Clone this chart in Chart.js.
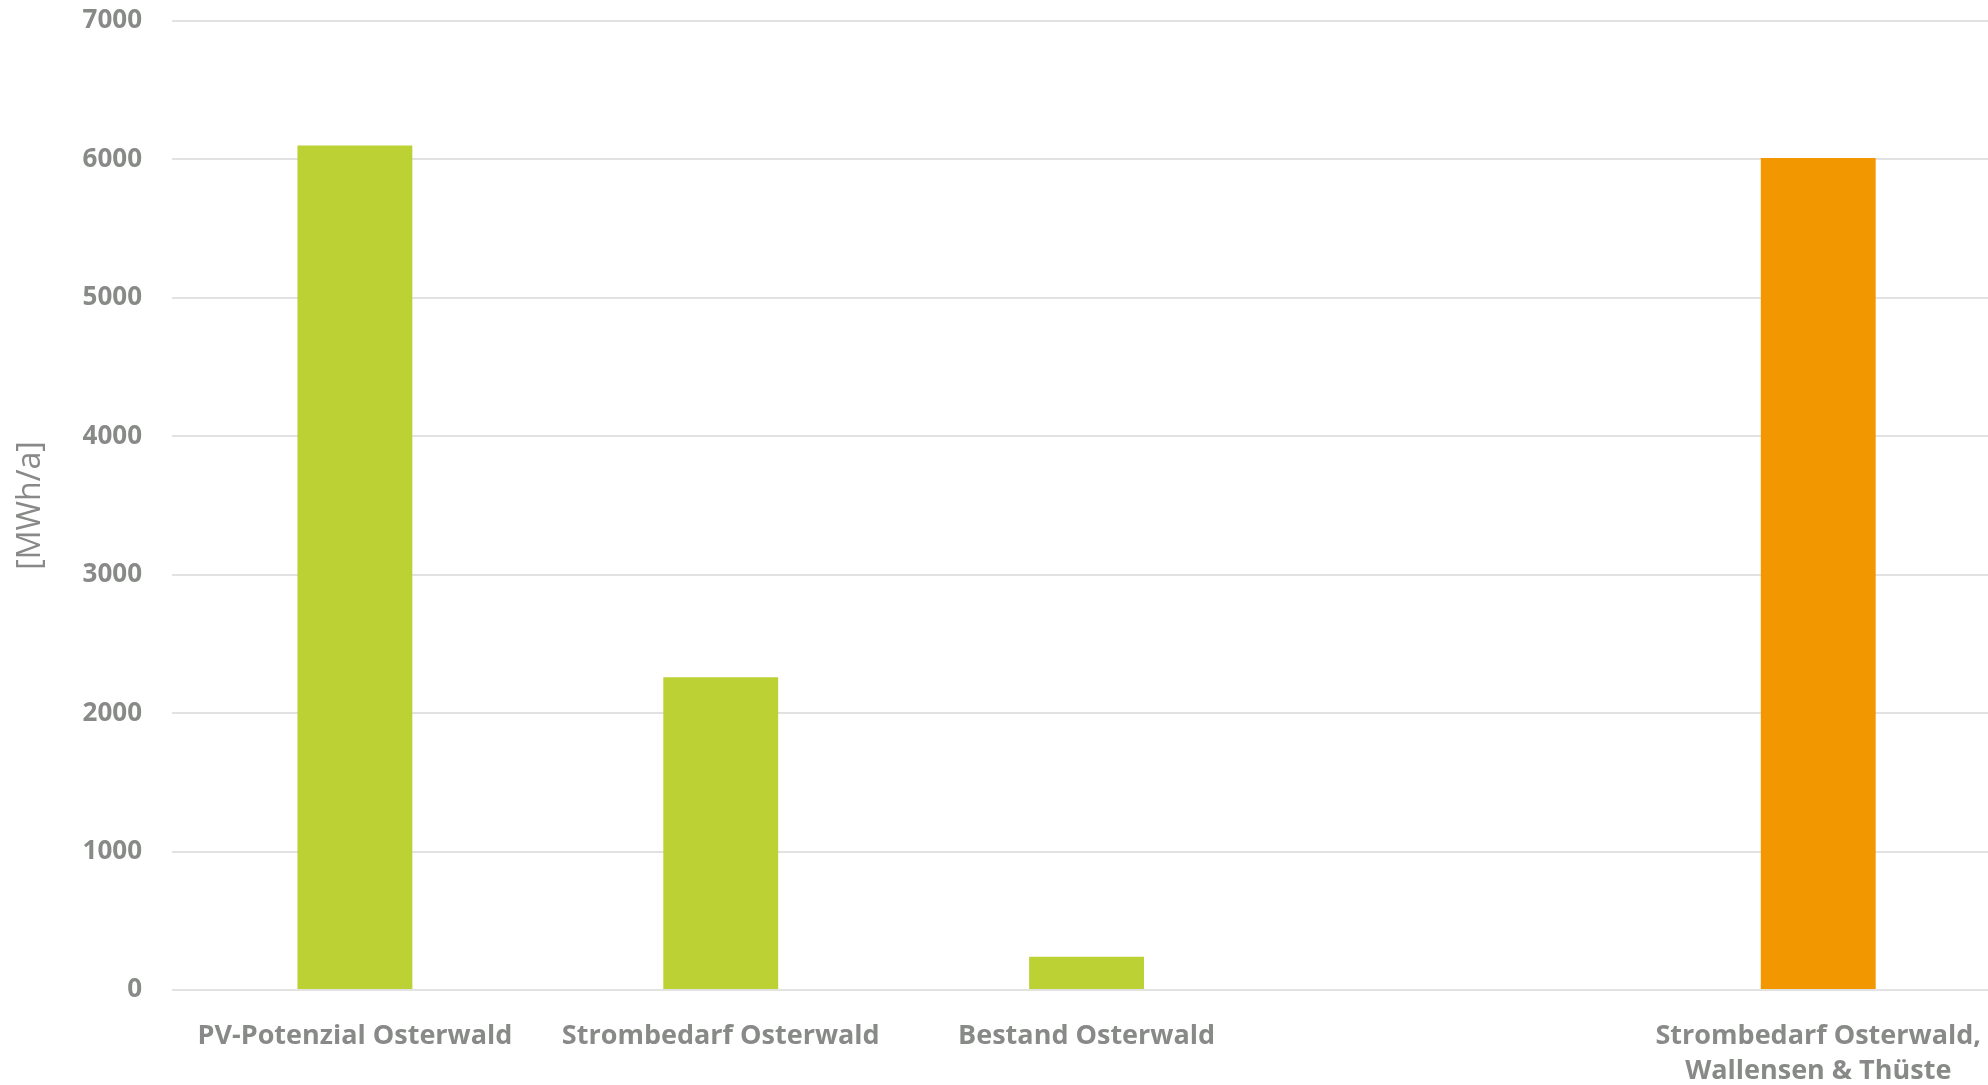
<!DOCTYPE html>
<html>
<head>
<meta charset="utf-8">
<script src="https://cdn.jsdelivr.net/npm/chart.js@4"></script>
<style>
  html, body { margin: 0; padding: 0; background: #fff; overflow: hidden; }
  #wrap { width: 2002px; height: 1085px; position: relative; }
</style>
</head>
<body>
<div id="wrap"><canvas id="energyChart"></canvas></div>
<script>
const categories = [
  'PV-Potenzial Osterwald',
  'Strombedarf Osterwald',
  'Bestand Osterwald',
  '',
  ['Strombedarf Osterwald,', 'Wallensen & Thüste']
];
const values = [6100, 2260, 240, null, 6010];
const barColors = ['#bcd134', '#bcd134', '#bcd134', '#bcd134', '#f39700'];
const yTicks = [0, 1000, 2000, 3000, 4000, 5000, 6000, 7000];

const textGray = '#878a87';

var ctx = document.getElementById('energyChart').getContext('2d');

var energyChart = new Chart(ctx, {
  type: 'bar',
  data: {
    labels: categories,
    datasets: [
      {
        data: values,
        backgroundColor: barColors,
        borderWidth: 0,
        categoryPercentage: 1,
        barPercentage: 0.314,
      },
    ],
  },
  options: {
    responsive: true,
    maintainAspectRatio: false,
    animation: false,
    devicePixelRatio: 1,
    layout: { padding: 0 },
    plugins: {
      legend: { display: false },
      tooltip: { enabled: false },
    },
    scales: {
      x: {
        grid: { display: false },
        border: { display: false },
        ticks: {
          color: textGray,
          padding: 21,
          maxRotation: 0,
          autoSkip: false,
          font: { family: 'Open Sans', size: 27, weight: 'bold', lineHeight: 1.3 },
        },
        afterFit: scale => { scale.height = 95; },
      },
      y: {
        min: 0,
        max: 7000,
        border: { display: false },
        grid: { color: '#e2e2e2', lineWidth: 2, drawTicks: false },
        afterBuildTicks: scale => {
          scale.ticks = yTicks.map(v => ({ value: v }));
        },
        ticks: {
          color: textGray,
          padding: 30,
          callback: v => String(v),
          font: { family: 'Open Sans', size: 26, weight: 'bold', lineHeight: 1.2 },
        },
        title: {
          display: true,
          text: '[MWh/a]',
          color: textGray,
          padding: { top: 12, bottom: 0 },
          font: { family: 'Open Sans', size: 32, weight: 'normal', lineHeight: 1.2 },
        },
        // fixed axis width, and keep the plot top at the 7000 line
        afterFit: scale => {
          scale.width = 172;
          scale.paddingTop = 21;
          scale.paddingBottom = 0;
        },
      },
    },
  },
});
</script>
</body>
</html>
